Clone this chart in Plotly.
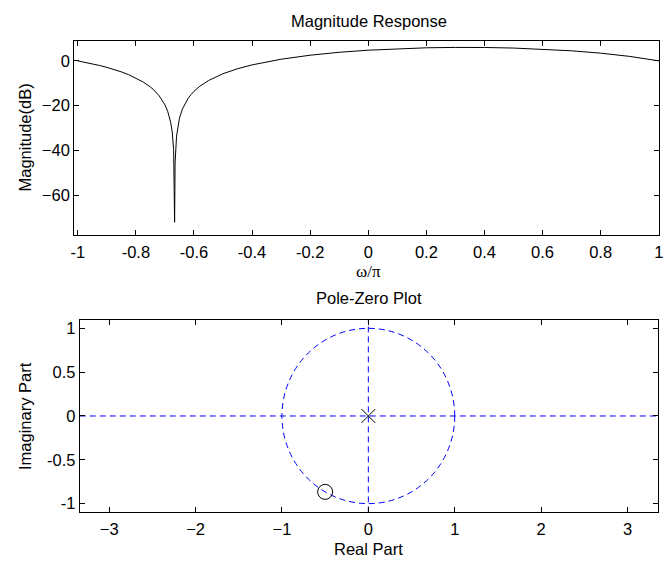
import plotly.graph_objects as go

# Magnitude response samples (omega/pi, dB)
omega_norm = [-1.0, -0.975, -0.95, -0.925, -0.9, -0.875, -0.85, -0.825, -0.8, -0.775,
              -0.75, -0.74, -0.72, -0.71, -0.70, -0.69, -0.685, -0.68, -0.675, -0.67,
              -0.6667, -0.665, -0.66, -0.655, -0.65, -0.64, -0.63, -0.62, -0.61, -0.6,
              -0.58, -0.55, -0.5, -0.45, -0.4, -0.35, -0.3, -0.2, -0.1, 0.0,
              0.1, 0.2, 0.3, 0.333, 0.4, 0.5, 0.6, 0.7, 0.8, 0.9, 1.0]
mag_db = [0.0, -0.62, -1.30, -2.05, -2.89, -3.84, -4.91, -6.16, -7.62, -9.40,
          -11.66, -12.77, -15.53, -17.32, -19.60, -22.70, -24.79, -27.56, -31.64, -39.60,
          -72.0, -45.6, -33.58, -28.72, -25.62, -21.54, -18.77, -16.68, -15.00, -13.59,
          -11.33, -8.77, -5.72, -3.51, -1.79, -0.41, 0.74, 2.53, 3.83, 4.77,
          5.42, 5.83, 6.01, 6.02, 5.97, 5.72, 5.23, 4.49, 3.44, 2.00, 0.0]

# Pole-zero locations
zeros_re = [-0.5]
zeros_im = [-0.866]
poles_re = [0.0]
poles_im = [0.0]

top_xticks = [-1, -0.8, -0.6, -0.4, -0.2, 0, 0.2, 0.4, 0.6, 0.8, 1]
top_xlabels = ["-1", "-0.8", "-0.6", "-0.4", "-0.2", "0", "0.2", "0.4", "0.6", "0.8", "1"]
top_yticks = [-60, -40, -20, 0]
bot_xticks = [-3, -2, -1, 0, 1, 2, 3]
bot_yticks = [-1, -0.5, 0, 0.5, 1]
bot_ylabels = ["-1", "-0.5", "0", "0.5", "1"]

W, H = 667, 562
FONT = dict(family="Liberation Sans, Arial, Helvetica, sans-serif", size=16.5, color="black")
SERIF = dict(family="Liberation Serif, Times New Roman, serif", size=17, color="black")

fig = go.Figure()
fig.add_trace(go.Scatter(x=omega_norm, y=mag_db, mode="lines",
                         line=dict(color="black", width=1), xaxis="x", yaxis="y",
                         showlegend=False, hoverinfo="skip"))
fig.add_trace(go.Scatter(x=zeros_re, y=zeros_im, mode="markers",
                         marker=dict(symbol="circle-open", size=15, color="black",
                                     line=dict(width=1, color="black")),
                         xaxis="x2", yaxis="y2", showlegend=False))
fig.add_trace(go.Scatter(x=poles_re, y=poles_im, mode="markers",
                         marker=dict(symbol="x-thin-open", size=14, color="black",
                                     line=dict(width=1, color="black")),
                         xaxis="x2", yaxis="y2", showlegend=False))

blue_dash = dict(color="rgb(0,0,255)", width=1, dash="6px,4px")
shapes = [
    dict(type="circle", xref="x2", yref="y2", x0=-1, x1=1, y0=-1, y1=1, line=blue_dash, layer="below"),
    dict(type="line", xref="x2 domain", yref="y2", x0=0, x1=1, y0=0, y1=0, line=blue_dash, layer="below"),
    dict(type="line", xref="x2", yref="y2 domain", x0=0, x1=0, y0=0, y1=1, line=blue_dash, layer="below"),
]

axis_common = dict(showline=True, linecolor="black", linewidth=1, mirror="ticks",
                   ticks="inside", ticklen=5, tickcolor="black", tickwidth=1,
                   showgrid=False, zeroline=False, tickfont=FONT,
                   ticklabeloverflow="allow")

def px_x(p):
    return p / W

def px_y(p):
    return 1 - p / H

fig.update_layout(
    width=W, height=H, autosize=False,
    margin=dict(l=0, r=0, t=0, b=0),
    paper_bgcolor="white", plot_bgcolor="white",
    font=FONT,
    xaxis=dict(domain=[px_x(71), px_x(663)], range=[-1.0125, 1.001],
               tickmode="array", tickvals=top_xticks, ticktext=top_xlabels,
               anchor="y", ticklabelstandoff=3, **axis_common),
    yaxis=dict(domain=[px_y(234), px_y(40)], range=[-77.5, 8.9],
               tickmode="array", tickvals=top_yticks, anchor="x", **axis_common),
    xaxis2=dict(domain=[px_x(76.7), px_x(661.7)], range=[-3.34, 3.35],
                tickmode="array", tickvals=bot_xticks, anchor="y2", ticklabelstandoff=2,
                **axis_common),
    yaxis2=dict(domain=[px_y(512.3), px_y(320)], range=[-1.1, 1.09],
                tickmode="array", tickvals=bot_yticks, ticktext=bot_ylabels,
                anchor="x2", **axis_common),
    shapes=shapes,
    annotations=[
        dict(text="Magnitude Response", x=px_x(369), y=px_y(20), xref="paper", yref="paper",
             showarrow=False, font=FONT, xanchor="center", yanchor="middle"),
        dict(text="ω/π", x=px_x(369), y=px_y(271), xref="paper", yref="paper",
             showarrow=False, font=SERIF, xanchor="center", yanchor="middle"),
        dict(text="Magnitude(dB)", x=px_x(21), y=px_y(137), xref="paper", yref="paper",
             showarrow=False, font=FONT, textangle=-90, xanchor="center", yanchor="middle"),
        dict(text="Pole-Zero Plot", x=px_x(369), y=px_y(298), xref="paper", yref="paper",
             showarrow=False, font=FONT, xanchor="center", yanchor="middle"),
        dict(text="Real Part", x=px_x(369), y=px_y(549), xref="paper", yref="paper",
             showarrow=False, font=FONT, xanchor="center", yanchor="middle"),
        dict(text="Imaginary Part", x=px_x(22), y=px_y(416), xref="paper", yref="paper",
             showarrow=False, font=FONT, textangle=-90, xanchor="center", yanchor="middle"),
    ],
)

fig.write_html("out.html")
